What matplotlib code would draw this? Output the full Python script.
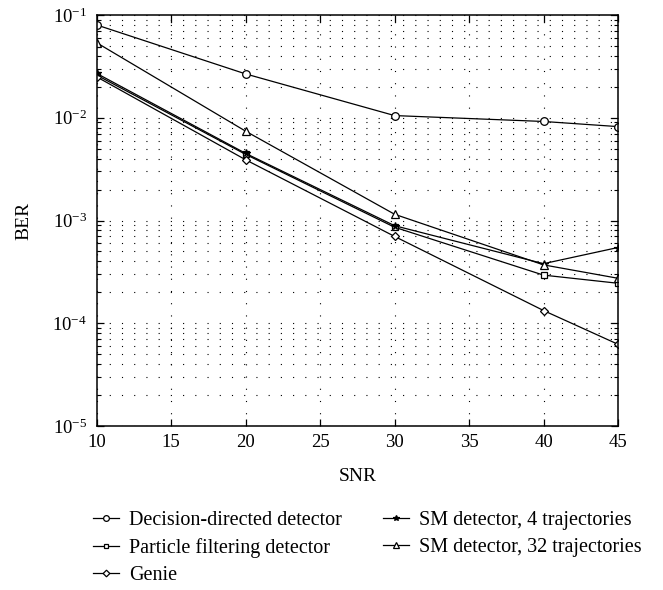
import matplotlib
matplotlib.use("Agg")
import matplotlib.pyplot as plt
from matplotlib.ticker import LogLocator, NullFormatter, MultipleLocator

plt.rcParams['font.family'] = ['Liberation Serif', 'DejaVu Serif']
plt.rcParams['mathtext.fontset'] = 'stix'

snr = [10, 20, 30, 40, 45]
dd = [0.080, 0.0267, 0.0105, 0.0092, 0.0082]
pf = [0.026, 0.0044, 0.00086, 0.000294, 0.000245]
genie = [0.025, 0.0039, 0.0007, 0.000133, 0.0000624]
sm4 = [0.027, 0.0045, 0.00089, 0.00038, 0.000546]
sm32 = [0.0537, 0.0074, 0.00115, 0.00037, 0.000274]

W, H = 663, 590
fig = plt.figure(figsize=(W / 100, H / 100), dpi=100)
L, R, T, B = 96.7, 618, 15, 426
ax = fig.add_axes([L / W, 1 - B / H, (R - L) / W, (B - T) / H])

def style(m, ms, filled=False):
    return dict(marker=m, color='black', lw=0.9, markersize=ms,
                markerfacecolor='black' if filled else 'white',
                markeredgecolor='black', markeredgewidth=0.9)

l1, = ax.semilogy(snr, dd, label='Decision-directed detector', **style('o', 5.5))
l2, = ax.semilogy(snr, pf, label='Particle filtering detector', **style('s', 4.8))
l3, = ax.semilogy(snr, genie, label='Genie', **style('D', 4.5))
l4, = ax.semilogy(snr, sm4, label='SM detector, 4 trajectories', **style('*', 5.5, True))
l5, = ax.semilogy(snr, sm32, label='SM detector, 32 trajectories', **style('^', 5.5))

ax.set_xlim(10, 45)
ax.set_ylim(1e-5, 1e-1)
ax.xaxis.set_major_locator(MultipleLocator(5))
ax.yaxis.set_major_locator(LogLocator(base=10, numticks=10))
ax.yaxis.set_minor_locator(LogLocator(base=10, subs=range(2, 10), numticks=10))
ax.yaxis.set_minor_formatter(NullFormatter())
dots = (0, (1, 10))
ax.grid(True, which='major', axis='both', linestyle=dots, color='black', lw=0.8)
ax.grid(True, which='minor', axis='y', linestyle=dots, color='black', lw=0.8)
ax.tick_params(which='both', direction='in', top=True, right=True, labelsize=13.5)
ax.tick_params(which='major', length=5, width=0.9)
ax.tick_params(which='minor', length=3, width=0.8)
ax.tick_params(axis='x', pad=6)
ax.tick_params(axis='y', pad=7)
for s in ax.spines.values():
    s.set_linewidth(1.1)

ax.set_xlabel('SNR', fontsize=14)
ax.xaxis.label.set_va('center')
ax.xaxis.set_label_coords(0.5, -(476.7 - B) / (B - T))
ax.set_ylabel('BER', fontsize=14)
ax.yaxis.label.set_va('center')
ax.yaxis.set_label_coords(-(L - 24) / (R - L), 0.5)

common = dict(loc='upper left', frameon=False, fontsize=14.5, handlelength=1.3,
              handletextpad=0.5, labelspacing=0.4, markerscale=0.75,
              borderpad=0, borderaxespad=0)
top = 1 - 511.0 / H
fig.legend(handles=[l1, l2, l3], bbox_to_anchor=(93 / W, top), **common)
fig.legend(handles=[l4, l5], bbox_to_anchor=(383 / W, top), **common)

fig.savefig('out.png', dpi=100)
